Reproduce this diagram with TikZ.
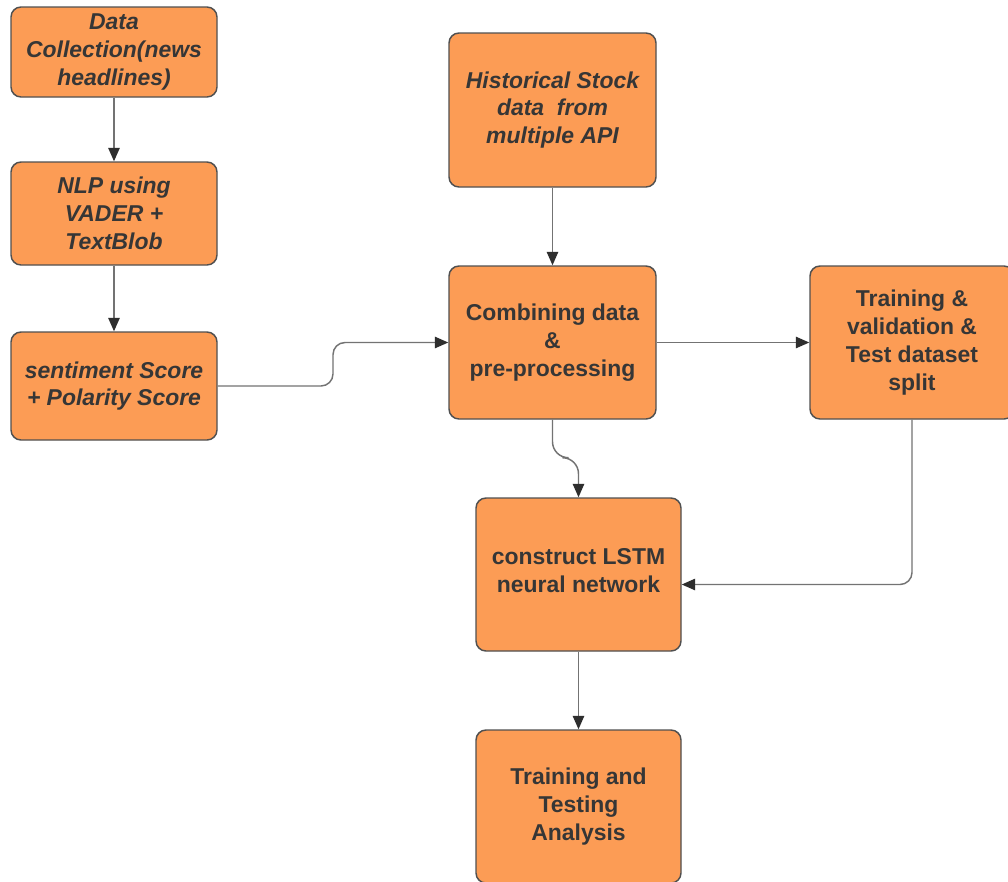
\documentclass[tikz,border=0pt]{standalone}
\usepackage{fontspec}
\setmainfont{Liberation Sans}
\usetikzlibrary{arrows.meta}
\definecolor{boxfill}{HTML}{FC9C55}
\definecolor{boxline}{HTML}{505050}
\definecolor{txt}{HTML}{363636}
\definecolor{wire}{HTML}{737373}
\definecolor{tipc}{HTML}{2E2E2E}
\tikzset{
  stepbox/.style={draw=boxline, line width=1.1pt, fill=boxfill, rounded corners=7.5pt,
    align=center, text=txt, inner sep=0pt,
    font=\fontsize{17.2}{20.8}\selectfont\bfseries},
  slanted/.style={font=\fontsize{17.2}{20.8}\selectfont\bfseries\itshape},
  flow/.style={draw=wire, line width=1.1pt, rounded corners=9pt,
    -{Triangle[length=10pt,width=8.5pt,fill=tipc,color=tipc]}}
}
\begin{document}
\begin{tikzpicture}[x=0.75pt,y=-0.75pt]
\clip (0,0) rectangle (1008,882);
\fill[white] (0,0) rectangle (1008,882);

% left column: news sentiment branch
\node[stepbox,slanted,minimum width=154.5pt,minimum height=67.5pt] (collect) at (114,52)
  {Data\\Collection(news\\headlines)};
\node[stepbox,slanted,minimum width=154.5pt,minimum height=77.25pt] (nlp) at (114,213.5)
  {NLP using\\VADER +\\TextBlob};
\node[stepbox,slanted,minimum width=154.5pt,minimum height=81pt] (score) at (114,386)
  {sentiment Score\\+ Polarity Score};

% middle and right: stock data and model
\node[stepbox,slanted,minimum width=155.25pt,minimum height=115.5pt] (hist) at (552.5,110)
  {Historical Stock\\data\ \ from\\multiple API};
\node[stepbox,minimum width=155.25pt,minimum height=114.75pt] (combine) at (552.5,342.5)
  {Combining data\\\&\\pre-processing};
\node[stepbox,minimum width=153pt,minimum height=114.75pt] (split) at (912,342.5)
  {Training \&\\validation \&\\Test dataset\\split};
\node[stepbox,minimum width=153.75pt,minimum height=114.75pt] (lstm) at (578.5,574.5)
  {construct LSTM\\neural network\\[-14.8pt]\mbox{}};
\node[stepbox,minimum width=153.75pt,minimum height=114.75pt] (analysis) at (578.5,806.5)
  {Training and\\Testing\\Analysis};

% connectors
\draw[flow] (collect.south) -- (nlp.north);
\draw[flow] (nlp.south) -- (score.north);
\draw[flow] (score.east) -- (333,386) -- (333,342.5) -- (combine.west);
\draw[flow] (hist.south) -- (combine.north);
\draw[flow] (combine.east) -- (split.west);
\draw[flow, rounded corners=12pt] (combine.south) -- ++(0,38) -| (lstm.north);
\draw[flow] (split.south) |- ([yshift=-7.5pt]lstm.east);
\draw[flow] (lstm.south) -- (analysis.north);
\end{tikzpicture}
\end{document}
